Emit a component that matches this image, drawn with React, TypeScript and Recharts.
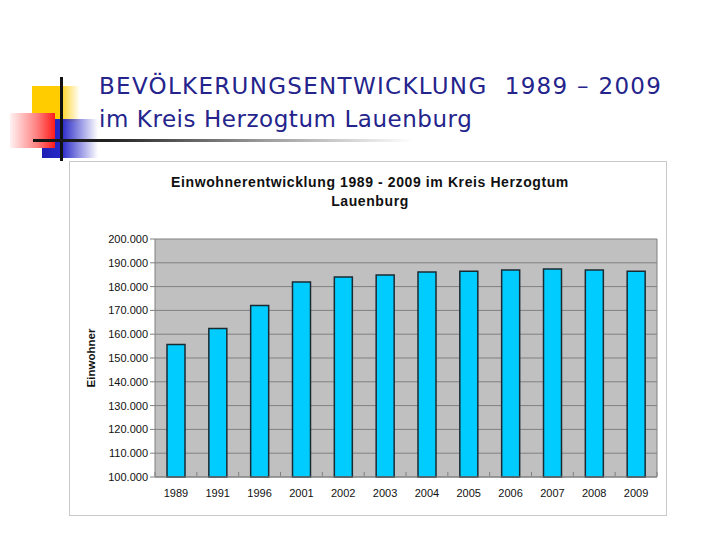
import { Bar, BarChart, CartesianGrid, XAxis, YAxis } from "recharts";

const years = ["1989", "1991", "1996", "2001", "2002", "2003", "2004", "2005", "2006", "2007", "2008", "2009"];
const einwohner = [155700, 162400, 172100, 181900, 184000, 184900, 186100, 186500, 187000, 187400, 187000, 186500];
const yTicks = [100000, 110000, 120000, 130000, 140000, 150000, 160000, 170000, 180000, 190000, 200000];

const data = years.map((year, i) => ({ year, einwohner: einwohner[i] }));

const formatThousands = (v: number) => v.toLocaleString("de-DE");

const CHART_W = 596;
const Y_AXIS_W = 85;
const RIGHT = 9;
const BAND = (CHART_W - Y_AXIS_W - RIGHT) / years.length;

// year label plus the small tick marks between categories, like Excel draws them
const YearTick = (props: any) => {
  const { x, y, payload, index } = props;
  const top = y - 17;
  return (
    <g>
      <line x1={x - BAND / 2} x2={x - BAND / 2} y1={top} y2={top + 4} stroke="#808080" />
      {index === years.length - 1 && (
        <line x1={x + BAND / 2} x2={x + BAND / 2} y1={top} y2={top + 4} stroke="#808080" />
      )}
      <text x={x} y={y} dy={8} textAnchor="middle" fontSize={11} fill="#111">
        {payload.value}
      </text>
    </g>
  );
};

const Decoration = () => (
  <>
    <div style={{ position: "absolute", left: 32, top: 86, width: 48, height: 36, background: "linear-gradient(to right, #FFCC00 0%, #FFCC00 55%, rgba(255,220,80,0) 100%)" }} />
    <div style={{ position: "absolute", left: 42, top: 119, width: 56, height: 39, background: "linear-gradient(to right, #1E1EB4 0%, #2828C8 35%, rgba(255,255,255,0) 100%)" }} />
    <div style={{ position: "absolute", left: 10, top: 113, width: 45, height: 35, background: "linear-gradient(to right, #FFF2F2 0%, #FF8080 60%, #FF1A1A 100%)" }} />
    <div style={{ position: "absolute", left: 60, top: 77, width: 3, height: 84, background: "#111" }} />
    <div style={{ position: "absolute", left: 33, top: 139, width: 380, height: 3, background: "linear-gradient(to right, #111 0%, #222 20%, #999 60%, rgba(255,255,255,0) 100%)" }} />
  </>
);

const titleStyle = {
  position: "absolute" as const,
  left: 99,
  fontFamily: "'DejaVu Sans', sans-serif",
  fontSize: 23,
  lineHeight: "33px",
  color: "#24248C",
  whiteSpace: "pre" as const
};

export default function App() {
  return (
    <div style={{ position: "absolute", left: 0, top: 0, width: 720, height: 540, background: "#fff", overflow: "hidden" }}>
      <Decoration />
      <div style={{ ...titleStyle, top: 70, letterSpacing: 1.3 }}>{"BEVÖLKERUNGSENTWICKLUNG  1989 – 2009"}</div>
      <div style={{ ...titleStyle, top: 103, letterSpacing: 0.55 }}>{"im Kreis Herzogtum Lauenburg"}</div>
      <div style={{ position: "absolute", left: 69, top: 161, width: CHART_W, height: 353, border: "1px solid #C8C8C8", background: "#fff" }}>
        <div
          style={{
            position: "absolute",
            left: 0,
            top: 11,
            width: 600,
            textAlign: "center",
            fontFamily: "'Liberation Sans', Arial, sans-serif",
            fontWeight: "bold",
            fontSize: 14,
            letterSpacing: 0.6,
            lineHeight: "19px",
            color: "#111"
          }}
        >
          Einwohnerentwicklung 1989 - 2009 im Kreis Herzogtum
          <br />
          Lauenburg
        </div>
        <BarChart
          width={CHART_W}
          height={353}
          data={data}
          margin={{ top: 77, right: RIGHT, bottom: 0, left: 0 }}
          barSize={18}
          style={{ fontFamily: "'Liberation Sans', Arial, sans-serif" }}
        >
          <CartesianGrid
            fill="#C0C0C0"
            stroke="#808080"
            strokeWidth={1}
            verticalCoordinatesGenerator={({ offset }: any) => [offset.left + offset.width]}
          />
          <XAxis
            dataKey="year"
            tickLine={false}
            axisLine={{ stroke: "#808080" }}
            height={38}
            tickMargin={6}
            interval={0}
            tick={<YearTick />}
          />
          <YAxis
            domain={[100000, 200000]}
            ticks={yTicks}
            width={Y_AXIS_W}
            interval={0}
            tickFormatter={formatThousands}
            tick={{ fontSize: 11, fill: "#111" }}
            tickSize={5}
            tickLine={{ stroke: "#808080" }}
            axisLine={{ stroke: "#808080" }}
            label={{
              value: "Einwohner",
              angle: -90,
              position: "insideLeft",
              offset: 21,
              style: { fontSize: 11.5, fontWeight: "bold", fill: "#111", textAnchor: "middle" }
            }}
          />
          <Bar dataKey="einwohner" fill="#00CCFF" stroke="#1A2A33" strokeWidth={1.5} isAnimationActive={false} />
        </BarChart>
      </div>
    </div>
  );
}
